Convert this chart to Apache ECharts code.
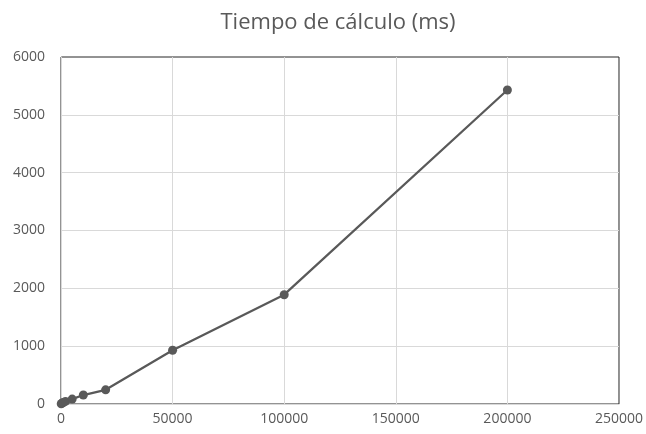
<!DOCTYPE html>
<html lang="es">
<head>
    <meta charset="UTF-8">
    <title>Tiempo de cálculo</title>
    <script src="https://cdn.jsdelivr.net/npm/echarts/dist/echarts.min.js"></script>
    <style>
        html, body { margin: 0; padding: 0; background: #fff; }
        #chart { width: 646px; height: 434px; }
    </style>
</head>
<body>
<div id="chart"></div>
<script>
    // datos
    var tamanos = [100, 500, 1000, 2000, 5000, 10000, 20000, 50000, 100000, 200000];
    var tiempos = [5, 15, 25, 45, 85, 155, 245, 930, 1890, 5430];

    var chart = echarts.init(document.getElementById('chart'));
    var gris = '#595959';

    var option = {
        animation: false,
        title: {
            text: 'Tiempo de cálculo (ms)',
            left: 333,
            textAlign: 'center',
            top: 7,
            textStyle: {
                fontFamily: 'Open Sans',
                fontSize: 22,
                fontWeight: 'normal',
                color: gris
            }
        },
        grid: {
            left: 61,
            right: 26,
            top: 57,
            bottom: 30,
            show: true,
            borderColor: '#262626',
            borderWidth: 1
        },
        xAxis: {
            type: 'value',
            min: 0,
            max: 250000,
            interval: 50000,
            axisLine: { lineStyle: { color: '#d9d9d9' } },
            axisTick: { show: false },
            splitLine: { showMaxLine: false, lineStyle: { color: '#d9d9d9' } },
            axisLabel: {
                color: gris, fontSize: 14, margin: 8, fontFamily: 'Open Sans',
                formatter: function (v) { return String(v); }
            }
        },
        yAxis: {
            type: 'value',
            min: 0,
            max: 6000,
            interval: 1000,
            axisLine: { show: true, lineStyle: { color: '#d9d9d9' } },
            axisTick: { show: false },
            splitLine: { showMaxLine: false, lineStyle: { color: '#d9d9d9' } },
            axisLabel: {
                color: gris, fontSize: 14, margin: 16, fontFamily: 'Open Sans',
                formatter: function (v) { return String(v); }
            }
        },
        series: [{
            type: 'line',
            data: tamanos.map(function (n, i) { return [n, tiempos[i]]; }),
            symbol: 'circle',
            symbolSize: 9,
            itemStyle: { color: gris },
            lineStyle: { color: gris, width: 2.25 }
        }]
    };

    chart.setOption(option);
</script>
</body>
</html>
